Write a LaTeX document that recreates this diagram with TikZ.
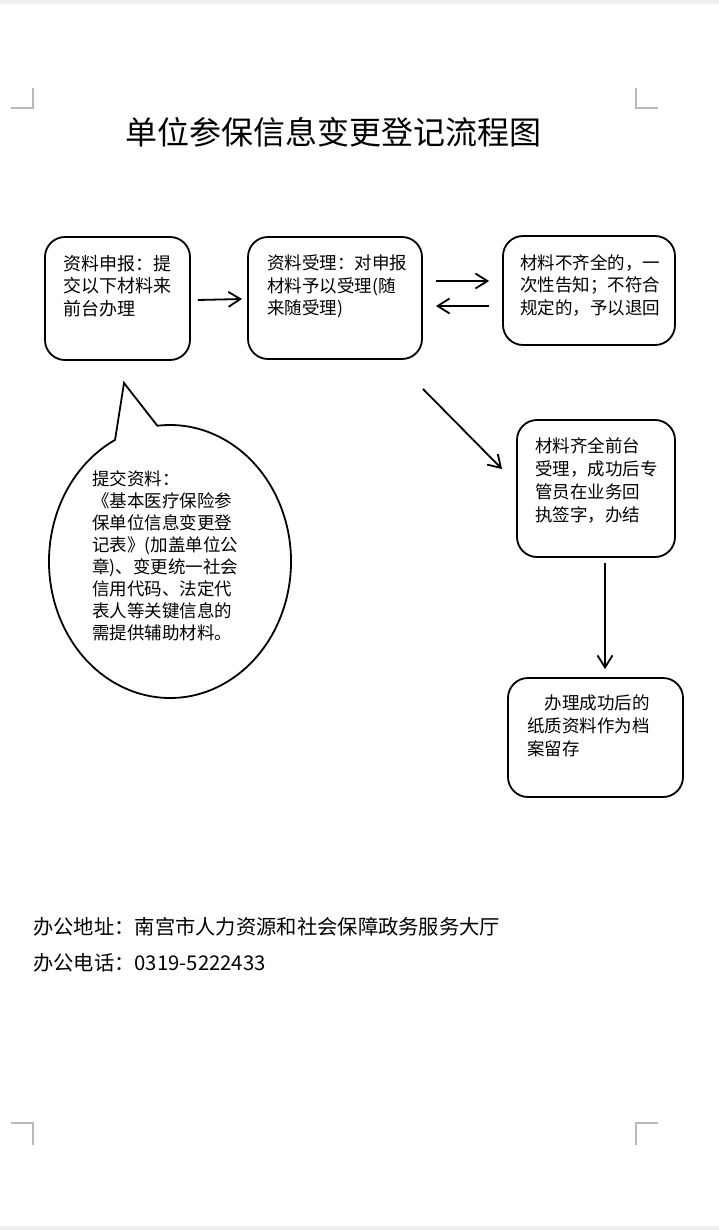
\documentclass[tikz,border=0pt]{standalone}
\usepackage{fontspec}
\setmainfont{Noto Sans CJK SC}
\usetikzlibrary{arrows.meta,calc}
\tikzset{
  box/.style={draw, line width=1.8pt, rounded corners=20pt, inner sep=0pt},
  txt/.style={anchor=north west, inner sep=0pt, align=left, font=\fontsize{17.5}{22.5}\selectfont},
  arr/.style={line width=1.8pt, -{Straight Barb[length=12pt,width=15pt,line width=1.8pt]}},
  crop/.style={draw=gray!55, line width=1.2pt},
}
\begin{document}
\begin{tikzpicture}[x=1pt,y=1pt]
\useasboundingbox (0,0) rectangle (719,-1230);
\fill[gray!12] (0,0) rectangle (719,-4);
\fill[gray!12] (0,-1226) rectangle (719,-1230);
% crop marks
\draw[crop] (11,-108) -- (33,-108) -- (33,-88);
\draw[crop] (636,-88) -- (636,-108) -- (658,-108);
\draw[crop] (11,-1123) -- (33,-1123) -- (33,-1145);
\draw[crop] (658,-1123) -- (636,-1123) -- (636,-1145);
% title
\node[inner sep=0pt, font=\fontsize{32}{32}\selectfont] (title) at (333,-132) {单位参保信息变更登记流程图};
% boxes
\node[box, minimum width=145pt, minimum height=123pt] (b1) at (117.5,-298.5) {};
\node[box, minimum width=174pt, minimum height=122pt] (b2) at (335,-298) {};
\node[box, minimum width=172pt, minimum height=109pt] (b3) at (589,-290.5) {};
\node[box, minimum width=158pt, minimum height=137pt] (b4) at (596,-488.5) {};
\node[box, minimum width=175pt, minimum height=119pt] (b5) at (595.5,-737.5) {};
\node[txt, font=\fontsize{18}{22.5}\selectfont] (t1) at (63,-255) {资料申报：提\\交以下材料来\\前台办理};
\node[txt] (t2) at (267,-255) {资料受理：对申报\\材料予以受理(随\\来随受理)};
\node[txt] (t3) at (520,-254) {材料不齐全的，一\\次性告知；不符合\\规定的，予以退回};
\node[txt, font=\fontsize{17.5}{23.3}\selectfont] (t4) at (535,-437) {材料齐全前台\\受理，成功后专\\管员在业务回\\执签字，办结};
\node[txt, font=\fontsize{17.5}{23}\selectfont] (t5) at (527,-695) {　办理成功后的\\纸质资料作为档\\案留存};
% callout
\coordinate (ec) at (170,-561.5);
\coordinate (tip) at (124,-383);
\draw[line width=1.8pt, line join=miter] ($(ec)+(96:121pt and 136.5pt)$) coordinate (rb) -- (tip) -- ($(ec)+(117:121pt and 136.5pt)$)
  arc[start angle=117, end angle=456, x radius=121pt, y radius=136.5pt] -- cycle;
\node[txt, font=\fontsize{17.5}{22}\selectfont] (t6) at (92,-470) {提交资料：\\《基本医疗保险参\\保单位信息变更登\\记表》(加盖单位公\\章)、变更统一社会\\信用代码、法定代\\表人等关键信息的\\需提供辅助材料。};
% arrows
\draw[arr] ($(b1.east)+(7,-1.5)$) -- ($(b2.west)+(-5,-1)$);
\draw[arr] ($(b2.east)+(13,17)$) -- ($(b3.west)+(-13,9.5)$);
\draw[arr] ($(b3.west)+(-13,-15.5)$) -- ($(b2.east)+(13,-8)$);
\draw[arr] ($(b2.south east)+(0,-29)$) -- ($(b4.north west)+(-14,-50)$);
\draw[arr] ($(b4.south)+(9,-5)$) -- ($(b5.north)+(9.5,8)$);
% footer
\node[anchor=north west, inner sep=0pt, font=\fontsize{20.3}{20.3}\selectfont] (addr) at (33,-917) {办公地址：南宫市人力资源和社会保障政务服务大厅};
\node[anchor=north west, inner sep=0pt, font=\fontsize{20.3}{20.3}\selectfont] (tel) at (33,-953) {办公电话：0319-5222433};
\end{tikzpicture}
\end{document}
